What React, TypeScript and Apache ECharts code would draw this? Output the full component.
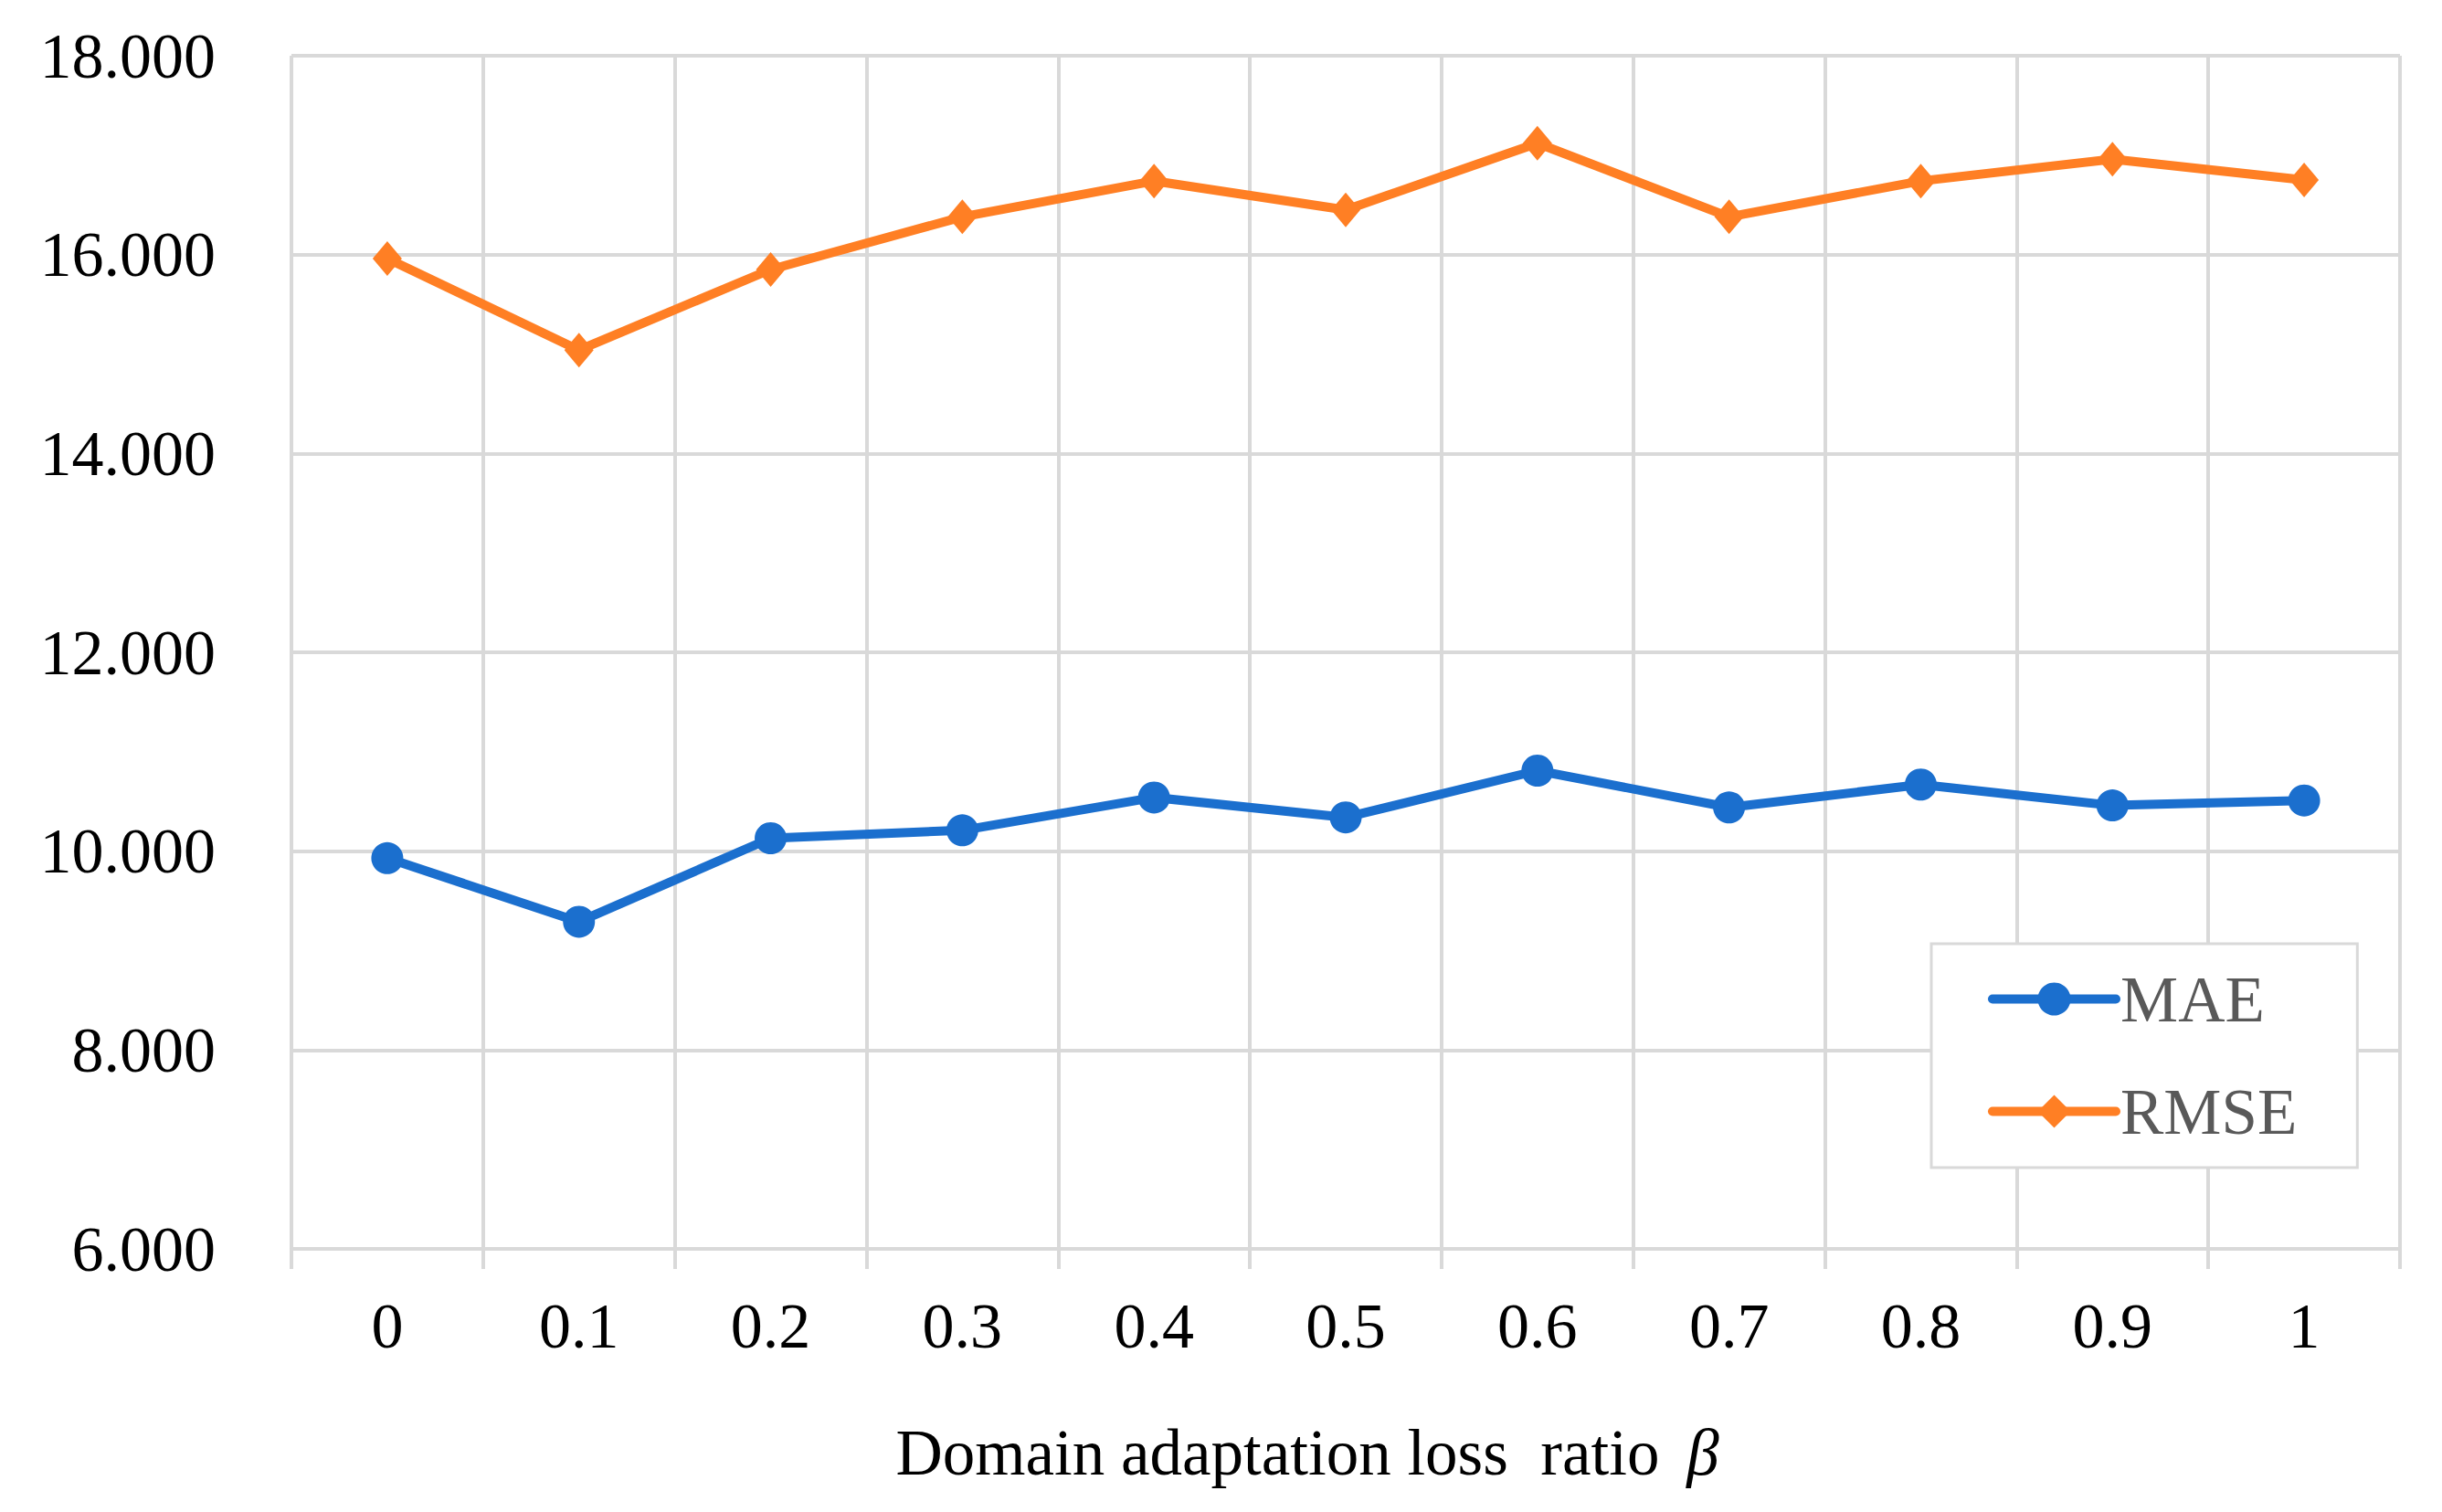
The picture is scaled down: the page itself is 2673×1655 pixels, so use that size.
import React, { useEffect, useRef } from "react";
import * as echarts from "echarts";

const categories = ["0", "0.1", "0.2", "0.3", "0.4", "0.5", "0.6", "0.7", "0.8", "0.9", "1"];
const maeValues = [9.93, 9.29, 10.13, 10.21, 10.54, 10.34, 10.81, 10.44, 10.67, 10.46, 10.51];
const rmseValues = [15.96, 15.04, 15.85, 16.38, 16.74, 16.45, 17.12, 16.38, 16.74, 16.96, 16.75];
const yMin = 6;
const yMax = 18;
const yStep = 2;

const FONT = "'Liberation Serif', 'Times New Roman', serif";
const GRID_COLOR = "#d9d9d9";
const BLUE = "#1b6fce";
const ORANGE = "#ff7f24";

export default function App() {
  const ref = useRef<HTMLDivElement>(null);

  useEffect(() => {
    if (!ref.current) return;
    const chart = echarts.init(ref.current, undefined, { renderer: "svg" });
    chart.setOption({
      animation: false,
      backgroundColor: "#ffffff",
      textStyle: { fontFamily: FONT },
      grid: { left: 319, right: 46, top: 61, bottom: 288, containLabel: false },
      legend: {
        orient: "vertical",
        left: 2114,
        top: 1033,
        padding: [25, 66, 26, 62],
        itemGap: 52,
        itemWidth: 135,
        itemHeight: 45,
        borderColor: GRID_COLOR,
        borderWidth: 3,
        backgroundColor: "#ffffff",
        lineStyle: { width: 10, cap: "round" },
        textStyle: { fontFamily: FONT, fontSize: 71, color: "#595959" },
        data: ["MAE", "RMSE"],
      },
      xAxis: {
        type: "category",
        data: categories,
        boundaryGap: true,
        axisLine: { show: true, lineStyle: { color: GRID_COLOR, width: 4 } },
        axisTick: { show: true, length: 22, lineStyle: { color: GRID_COLOR, width: 4 } },
        splitLine: { show: true, lineStyle: { color: GRID_COLOR, width: 4 } },
        axisLabel: { fontFamily: FONT, fontSize: 70, color: "#000000", margin: 49 },
        name: "{a|Domain adaptation loss  ratio }{b|β}",
        nameLocation: "middle",
        nameGap: 187,
        nameTextStyle: {
          fontFamily: FONT,
          fontSize: 71,
          color: "#000000",
          padding: [0, 84, 0, 0],
          rich: {
            a: { fontFamily: FONT, fontSize: 71, color: "#000000" },
            b: { fontFamily: FONT, fontSize: 71, color: "#000000", fontStyle: "italic", padding: [0, 0, 0, 12] },
          },
        },
      },
      yAxis: {
        type: "value",
        min: yMin,
        max: yMax,
        interval: yStep,
        axisLine: { show: false },
        axisTick: { show: false },
        splitLine: { show: true, lineStyle: { color: GRID_COLOR, width: 4 } },
        axisLabel: {
          fontFamily: FONT,
          fontSize: 70,
          color: "#000000",
          margin: 83,
          formatter: (v: number) => v.toFixed(3),
        },
      },
      series: [
        {
          name: "MAE",
          type: "line",
          data: maeValues,
          symbol: "circle",
          symbolSize: 35,
          itemStyle: { color: BLUE },
          lineStyle: { color: BLUE, width: 10, cap: "round" },
        },
        {
          name: "RMSE",
          type: "line",
          data: rmseValues,
          symbol: "diamond",
          symbolSize: [32, 38],
          itemStyle: { color: ORANGE },
          lineStyle: { color: ORANGE, width: 10 },
        },
      ],
    });
    return () => chart.dispose();
  }, []);

  return (
    <div
      ref={ref}
      style={{ position: "absolute", left: 0, top: 0, width: 2673, height: 1655, background: "#fff" }}
    />
  );
}
